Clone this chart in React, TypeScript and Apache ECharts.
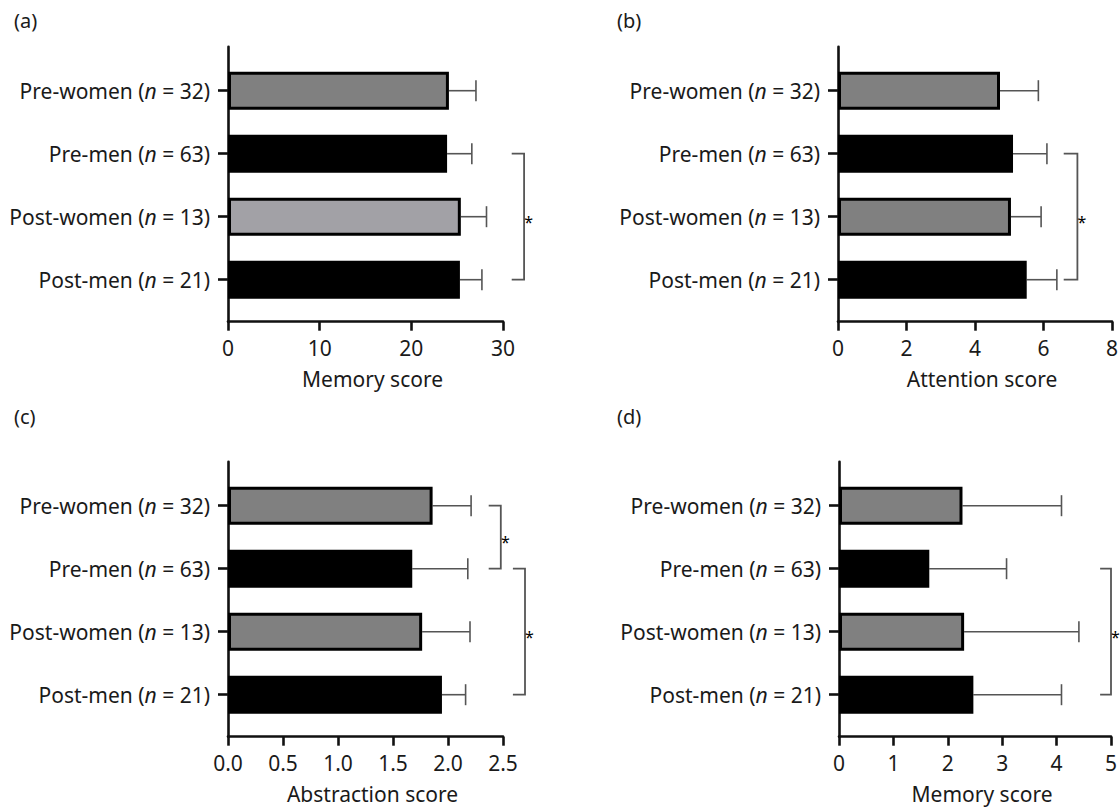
import React, { useEffect, useRef } from "react";
import * as echarts from "echarts";

// ---------- data ----------
const groups = ["Pre-women", "Pre-men", "Post-women", "Post-men"];
const groupN = [32, 63, 13, 21];

const panelLetters = ["(a)", "(b)", "(c)", "(d)"];
const axisTitles = ["Memory score", "Attention score", "Abstraction score", "Memory score"];
const axisMax = [30, 8, 2.5, 5];
const axisInterval = [10, 2, 0.5, 1];
const axisDecimals = [0, 0, 1, 0];

// bar means
const memoryMeanA = [24.1, 23.9, 25.4, 25.3];
const attentionMean = [4.73, 5.11, 5.05, 5.51];
const abstractionMean = [1.86, 1.675, 1.765, 1.945];
const memoryMeanD = [2.27, 1.66, 2.3, 2.47];

// upper end of error bars (mean + SD)
const memoryUpperA = [27.05, 26.6, 28.2, 27.7];
const attentionUpper = [5.85, 6.1, 5.93, 6.39];
const abstractionUpper = [2.21, 2.18, 2.2, 2.16];
const memoryUpperD = [4.09, 3.08, 4.41, 4.09];

// significance brackets: [xLeft, xVertical, fromCategory, toCategory]
const bracketsA = [[30.95, 32.3, 1, 3]];
const bracketsB = [[6.59, 6.99, 1, 3]];
const bracketsC = [
  [2.37, 2.48, 0, 1],
  [2.59, 2.7, 1, 3],
];
const bracketsD = [[4.8, 5.0, 1, 3]];

const means = [memoryMeanA, attentionMean, abstractionMean, memoryMeanD];
const uppers = [memoryUpperA, attentionUpper, abstractionUpper, memoryUpperD];
const brackets = [bracketsA, bracketsB, bracketsC, bracketsD];

// bar fills (women grey, men black); panel (a) post-women is lighter
const fillsA = ["#808080", "#000000", "#a2a1a6", "#000000"];
const fillsOther = ["#808080", "#000000", "#808080", "#000000"];
const panelFills = [fillsA, fillsOther, fillsOther, fillsOther];

// ---------- layout ----------
const FONT = "'Noto Sans', 'Liberation Sans', sans-serif";
const FS = 21;
const TXT = "#1a1a1a";
const AXIS = "#111111";
const ERR = "#555555";

const layout = [
  { left: 228, top: 46.7, width: 275, lx: 14, ly: 10 },
  { left: 838, top: 46.7, width: 274, lx: 617, ly: 10 },
  { left: 228, top: 461.7, width: 275, lx: 14, ly: 406 },
  { left: 839, top: 461.7, width: 272, lx: 617, ly: 406 },
];
const FRAME_H = 275;
const PAD_TOP = 12.5;
const PAD_BOTTOM = 10.5;

function buildOption() {
  const grid: any[] = [];
  const xAxis: any[] = [];
  const yAxis: any[] = [];
  const series: any[] = [];
  const graphic: any[] = [];

  layout.forEach((L, p) => {
    const fi = p * 2;
    const di = p * 2 + 1;
    grid.push({
      left: L.left,
      top: L.top,
      width: L.width,
      height: FRAME_H,
      containLabel: false,
      outerBoundsMode: "none",
    });
    grid.push({
      left: L.left,
      top: L.top + PAD_TOP,
      width: L.width,
      height: FRAME_H - PAD_TOP - PAD_BOTTOM,
      containLabel: false,
      outerBoundsMode: "none",
    });

    // frame x axis (visible)
    xAxis.push({
      type: "value",
      gridIndex: fi,
      min: 0,
      max: axisMax[p],
      interval: axisInterval[p],
      name: axisTitles[p],
      nameLocation: "middle",
      nameGap: 47,
      nameTextStyle: {
        fontFamily: FONT,
        fontSize: FS,
        color: TXT,
        padding: [0, 0, 0, 14],
      },
      axisLine: { show: true, onZero: false, lineStyle: { color: AXIS, width: 2.6 } },
      axisTick: { show: true, length: 9, lineStyle: { color: AXIS, width: 2.6 } },
      axisLabel: {
        margin: 16,
        fontFamily: FONT,
        fontSize: FS,
        color: TXT,
        formatter: (v: number) => v.toFixed(axisDecimals[p]),
      },
      splitLine: { show: false },
    });
    // data x axis (hidden, same scale)
    xAxis.push({
      type: "value",
      gridIndex: di,
      min: 0,
      max: axisMax[p],
      interval: axisInterval[p],
      show: false,
    });

    // frame y axis: just the line
    yAxis.push({
      type: "value",
      gridIndex: fi,
      min: 0,
      max: 1,
      axisLine: { show: true, onZero: false, lineStyle: { color: AXIS, width: 2.6 } },
      axisTick: { show: false },
      axisLabel: { show: false },
      splitLine: { show: false },
    });
    // data y axis: categories
    yAxis.push({
      type: "category",
      gridIndex: di,
      inverse: true,
      data: groups,
      axisLine: { show: false },
      axisTick: {
        show: true,
        alignWithLabel: true,
        length: 10,
        lineStyle: { color: AXIS, width: 2.6 },
      },
      axisLabel: {
        margin: 18,
        fontFamily: FONT,
        fontSize: FS,
        color: TXT,
        formatter: (v: string, i: number) => `${v} ({i|n} = ${groupN[i]})`,
        rich: {
          i: { fontFamily: FONT, fontSize: FS, color: TXT, fontStyle: "italic" },
        },
      },
      splitLine: { show: false },
    });

    // error bars (behind bars)
    series.push({
      type: "custom",
      xAxisIndex: di,
      yAxisIndex: di,
      z: 1,
      clip: false,
      data: means[p].map((m, j) => [m, uppers[p][j], j]),
      encode: { x: [0, 1], y: 2 },
      renderItem: (params: any, api: any) => {
        const c = api.value(2);
        const a = api.coord([api.value(0), c]);
        const b = api.coord([api.value(1), c]);
        const cap = 21;
        return {
          type: "group",
          children: [
            {
              type: "line",
              shape: { x1: a[0], y1: a[1], x2: b[0], y2: b[1] },
              style: { stroke: ERR, lineWidth: 1.6 },
            },
            {
              type: "line",
              shape: { x1: b[0], y1: b[1] - cap / 2, x2: b[0], y2: b[1] + cap / 2 },
              style: { stroke: ERR, lineWidth: 1.6 },
            },
          ],
        };
      },
    });

    // bars
    series.push({
      type: "bar",
      xAxisIndex: di,
      yAxisIndex: di,
      z: 2,
      barWidth: 38,
      data: means[p].map((m, j) => ({
        value: m,
        itemStyle: { color: panelFills[p][j], borderColor: "#000", borderWidth: 3 },
      })),
    });

    // significance brackets
    series.push({
      type: "custom",
      xAxisIndex: di,
      yAxisIndex: di,
      z: 3,
      clip: false,
      data: brackets[p],
      encode: { x: [0, 1], y: [2, 3] },
      renderItem: (params: any, api: any) => {
        const x0 = api.value(0);
        const x1 = api.value(1);
        const c0 = api.value(2);
        const c1 = api.value(3);
        const p0 = api.coord([x0, c0]);
        const p1 = api.coord([x1, c0]);
        const p2 = api.coord([x1, c1]);
        const p3 = api.coord([x0, c1]);
        return {
          type: "group",
          children: [
            {
              type: "polyline",
              shape: { points: [p0, p1, p2, p3] },
              style: { stroke: ERR, lineWidth: 1.8, fill: null },
            },
            {
              type: "text",
              x: p1[0] + 4.5,
              y: (p1[1] + p2[1]) / 2 + 5,
              style: {
                text: "*",
                fontFamily: FONT,
                fontSize: 16,
                fill: "#000",
                align: "center",
                verticalAlign: "middle",
              },
            },
          ],
        };
      },
    });

    graphic.push({
      type: "text",
      left: L.lx,
      top: L.ly,
      style: { text: panelLetters[p], fontFamily: FONT, fontSize: FS - 1, fill: TXT },
    });
  });

  return {
    animation: false,
    backgroundColor: "#ffffff",
    grid,
    xAxis,
    yAxis,
    series,
    graphic,
  };
}

export default function App() {
  const ref = useRef<HTMLDivElement>(null);
  useEffect(() => {
    if (!ref.current) return;
    const chart = echarts.init(ref.current, undefined, { renderer: "svg" });
    chart.setOption(buildOption() as any);
    return () => chart.dispose();
  }, []);
  return (
    <div
      ref={ref}
      style={{ position: "fixed", left: 0, top: 0, width: 1120, height: 807, background: "#fff" }}
    />
  );
}
